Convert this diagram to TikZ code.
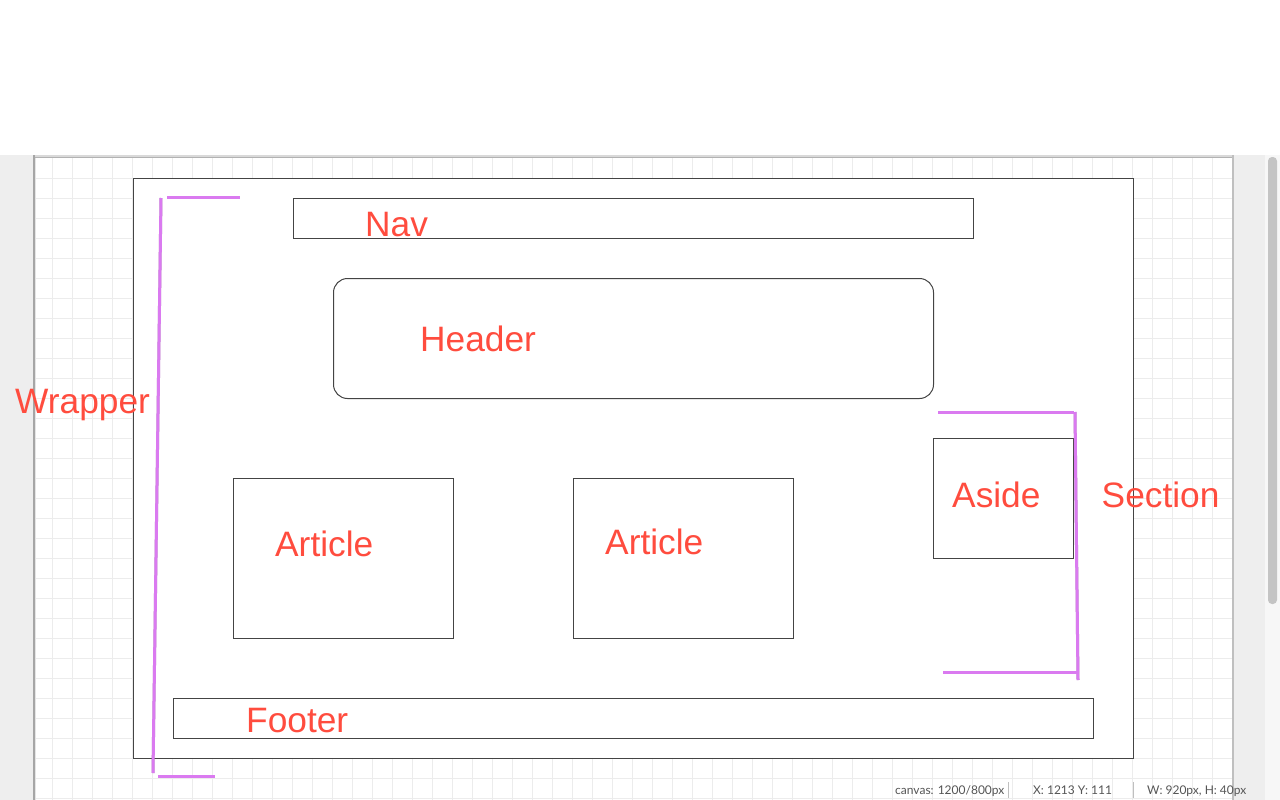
\documentclass[tikz,border=0pt]{standalone}
\usepackage{fontspec}
\setmainfont{Liberation Sans}
\newfontfamily\statusfont{Lato}
\definecolor{labelred}{RGB}{255,76,62}
\definecolor{boxline}{RGB}{68,68,68}
\definecolor{bracket}{RGB}{218,122,240}
\definecolor{gridgrey}{RGB}{236,236,236}
\definecolor{panelgrey}{RGB}{238,238,238}
\definecolor{statusgrey}{RGB}{85,85,85}
\definecolor{thumbgrey}{RGB}{196,196,196}
\tikzset{
  box/.style={draw=boxline, line width=1pt, inner sep=0pt, outer sep=0pt, anchor=north west},
  lbl/.style={text=labelred, font=\fontsize{35.3}{40}\selectfont, inner sep=0pt, anchor=base west},
  statustext/.style={text=statusgrey, font=\statusfont\fontsize{12}{14}\selectfont, inner sep=0pt, anchor=base west},
  bracketline/.style={draw=bracket, line width=3pt},
  bracketshadow/.style={draw=black, opacity=0.25, line width=3pt},
  gridline/.style={draw=gridgrey, line width=1pt}
}
\begin{document}
\begin{tikzpicture}[x=1pt,y=-1pt]
\useasboundingbox (0,0) rectangle (1280,800);
% backgrounds
\fill[white] (0,0) rectangle (1280,800);
\fill[panelgrey] (0,155) rectangle (33,800);
\fill[panelgrey] (1233,155) rectangle (1280,800);
\fill[white!97!black] (1265,155) rectangle (1280,800);
\fill[thumbgrey, rounded corners=4pt] (1268,157) rectangle (1277,604);
\fill[white] (33,157) rectangle (1233,800);
% grid
\foreach \gx in {52.5,72.5,...,1232.5} \draw[gridline] (\gx,158) -- (\gx,800);
\foreach \gy in {178.5,198.5,...,798.5} \draw[gridline] (33,\gy) -- (1233,\gy);
% canvas borders
\fill[black!15] (33,154.5) rectangle (1233,158);
\draw[black!30, line width=0.8pt] (33,157.5) -- (1233,157.5);
\draw[black!35, line width=1.5pt] (33.8,155) -- (33.8,800);
\draw[black!10, line width=1.5pt] (35.3,158) -- (35.3,800);
\draw[black!25, line width=1.2pt] (1233,155) -- (1233,800);
% boxes
\node[box, fill=white, minimum width=1000pt, minimum height=580pt] (wrapper) at (133.5,178.5) {};
\node[box, minimum width=680pt, minimum height=40pt] (nav) at (293.5,198.5) {};
\node[box, rounded corners=14pt, minimum width=600pt, minimum height=120pt] (header) at (333.5,278.5) {};
\node[box, minimum width=220pt, minimum height=160pt] (article1) at (233.5,478.5) {};
\node[box, minimum width=220pt, minimum height=160pt] (article2) at (573.5,478.5) {};
\node[box, minimum width=140pt, minimum height=120pt] (aside) at (933.5,438.5) {};
\node[box, minimum width=920pt, minimum height=40pt] (footer) at (173.5,698.5) {};
% labels
\node[lbl] (navlbl) at (365,236) {Nav};
\node[lbl] (headerlbl) at (420,351) {Header};
\node[lbl] (article1lbl) at (275,556) {Article};
\node[lbl] (article2lbl) at (605,554) {Article};
\node[lbl] (asidelbl) at (952,507) {Aside};
\node[lbl] (sectionlbl) at (1101.5,507) {Section};
\node[lbl] (wrapperlbl) at (15,413) {Wrapper};
\node[lbl] (footerlbl) at (246,732) {Footer};
% bracket coordinates
\coordinate (lvt) at (161,198);
\coordinate (lvb) at (153,773);
\coordinate (lht1) at (167,197);
\coordinate (lht2) at (240,197);
\coordinate (lhb1) at (158,776);
\coordinate (lhb2) at (215,776);
\coordinate (rht1) at (938,412);
\coordinate (rht2) at (1074,412);
\coordinate (rvt) at (1075,412);
\coordinate (rvb) at (1078,680);
\coordinate (rhb1) at (943,672);
\coordinate (rhb2) at (1078,672);
% shadows
\begin{scope}[shift={(0.8,1.3)}]
\draw[bracketshadow] (lvt) -- (lvb);
\draw[bracketshadow] (lht1) -- (lht2);
\draw[bracketshadow] (lhb1) -- (lhb2);
\draw[bracketshadow] (rht1) -- (rht2);
\draw[bracketshadow] (rvt) -- (rvb);
\draw[bracketshadow] (rhb1) -- (rhb2);
\end{scope}
% brackets
\draw[bracketline] (lvt) -- (lvb);
\draw[bracketline] (lht1) -- (lht2);
\draw[bracketline] (lhb1) -- (lhb2);
\draw[bracketline] (rht1) -- (rht2);
\draw[bracketline] (rvt) -- (rvb);
\draw[bracketline] (rhb1) -- (rhb2);
% status bar
\node[statustext] (stcanvas) at (895,794) {canvas: 1200/800px};
\node[statustext] (stxy) at (1033,794) {X: 1213 Y: 111};
\node[statustext] (stwh) at (1147,794) {W: 920px, H: 40px};
\coordinate (sep1t) at (1008,782);
\coordinate (sep1b) at (1008,798);
\coordinate (sep2t) at (1133,782);
\coordinate (sep2b) at (1133,798);
\draw[black!25, line width=0.8pt] (sep1t) -- (sep1b);
\draw[black!25, line width=0.8pt] (sep2t) -- (sep2b);
\end{tikzpicture}
\end{document}
